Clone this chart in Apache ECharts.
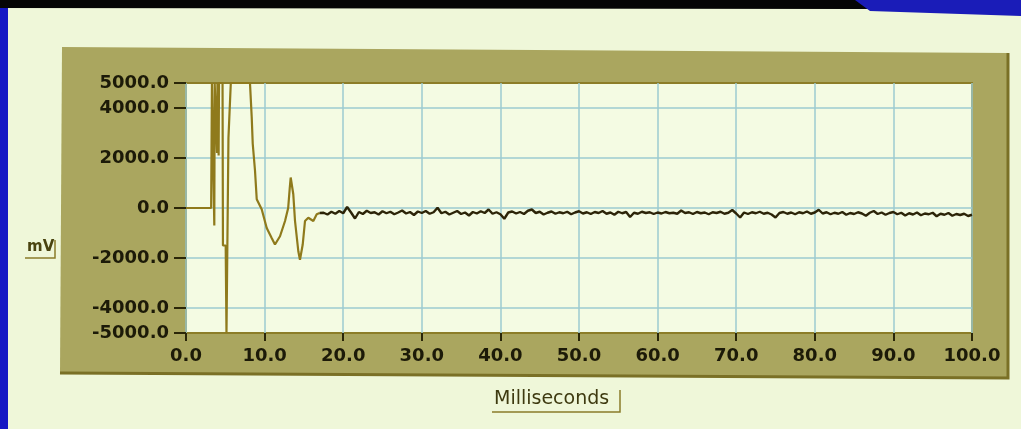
<!DOCTYPE html>
<html>
<head>
<meta charset="utf-8">
<script src="https://cdn.jsdelivr.net/npm/echarts@6/dist/echarts.min.js"></script>
<style>
html,body{margin:0;padding:0;background:#eff7d9;}
#chart{width:1021px;height:429px;}
</style>
</head>
<body>
<div id="chart"></div>
<script>
// ---- data ----
const yTickValues = [-5000, -4000, -2000, 0, 2000, 4000, 5000];
const xTickInterval = 10;
const xAxisTitle = 'Milliseconds';
const yAxisTitle = 'mV';

// early transient (ms, mV)
const transientMs = [0, 3.2, 3.3, 3.55, 3.6, 3.65, 3.9, 3.95, 4.0, 4.05, 4.1, 4.15, 4.2, 4.65, 4.7, 5.05, 5.15, 5.4, 5.65, 5.7, 8.14,
  8.36, 8.49, 8.78, 9.0, 9.63, 10.27, 10.9, 11.32, 11.96, 12.6, 13.0, 13.2, 13.32, 13.65, 13.87, 14.29, 14.5, 14.85, 15.14, 15.56, 16.2, 16.63, 17.0];
const transientMv = [0, 0, 5000, 5000, -700, 5000, 5000, 2200, 5000, 2300, 5000, 2100, 5000, 5000, -1500, -1500, -5000, 2800, 2800, 5000, 5000,
  3640, 2570, 1490, 350, -50, -800, -1200, -1460, -1130, -520, 0, 800, 1220, 550, -520, -1730, -2070, -1460, -520, -390, -520, -250, -200];

// baseline noise from 17.5 ms to 100 ms, every 0.5 ms
const noiseStartMs = 17.5;
const noiseStepMs = 0.5;
const noiseMv = [
  -190, -260, -150, -230, -120, -210, 40, -180, -420, -160,
  -240, -110, -200, -170, -260, -130, -210, -150, -250, -180,
  -100, -220, -160, -280, -140, -200, -120, -230, -170, 10,
  -210, -150, -260, -190, -120, -240, -180, -300, -160, -220,
  -130, -200, -60, -230, -170, -250, -430, -180, -140, -220,
  -160, -240, -110, -60, -200, -150, -260, -190, -140, -230,
  -170, -210, -150, -250, -180, -130, -220, -170, -240, -160,
  -200, -120, -230, -180, -270, -150, -210, -160, -360, -190,
  -230, -150, -200, -170, -240, -180, -220, -160, -210, -190,
  -230, -100, -200, -170, -240, -160, -210, -180, -250, -170,
  -200, -150, -230, -190, -80, -220, -380, -180, -240, -170,
  -210, -150, -230, -190, -260, -380, -200, -160, -230, -180,
  -250, -170, -210, -140, -230, -180, -70, -220, -170, -250,
  -190, -230, -160, -270, -200, -240, -170, -220, -310, -190,
  -120, -240, -180, -270, -200, -160, -250, -190, -300, -210,
  -260, -180, -290, -220, -250, -190, -330, -230, -270, -200,
  -310, -240, -280, -230, -320, -270
];

// ---- build series ----
const transientPoints = transientMs.map((t, i) => [t, transientMv[i]]);
const noisePoints = [[transientMs[transientMs.length - 1], transientMv[transientMv.length - 1]]];
noiseMv.forEach((v, i) => noisePoints.push([+(noiseStartMs + i * noiseStepMs).toFixed(2), v]));

const chart = echarts.init(document.getElementById('chart'), null, {renderer: 'canvas'});
const tickFont = {fontFamily: 'DejaVu Sans', fontSize: 18, fontWeight: 'bold', color: '#1c1a08'};
const gridColor = '#9ccbd0';

chart.setOption({
  backgroundColor: '#eff7d9',
  animation: false,
  grid: {left: 186, top: 83, width: 786, height: 250, show: true, z: 0,
    backgroundColor: '#f4fbe3', borderColor: '#8c7d28', borderWidth: 2},
  xAxis: {
    type: 'value', min: 0, max: 100, interval: xTickInterval, z: 3, position: 'bottom',
    axisLine: {show: false, onZero: false},
    axisTick: {show: true, inside: false, length: 8, lineStyle: {color: '#2a2608', width: 2}},
    axisLabel: Object.assign({margin: 14, formatter: v => v.toFixed(1)}, tickFont),
    splitLine: {show: true, lineStyle: {color: gridColor, width: 1.5}}
  },
  yAxis: [
    {
      type: 'value', min: -5000, max: 5000, interval: 1000, z: 3,
      axisLine: {show: false, onZero: false}, axisTick: {show: false}, axisLabel: {show: false},
      splitLine: {show: true, lineStyle: {color: ['rgba(0,0,0,0)', gridColor], width: 1.5}}
    },
    {
      type: 'value', min: -5000, max: 5000, position: 'left', z: 3,
      axisLine: {show: false, onZero: false}, splitLine: {show: false},
      axisTick: {show: true, length: 12, customValues: yTickValues, lineStyle: {color: '#2a2608', width: 2}},
      axisLabel: Object.assign({margin: 17, customValues: yTickValues, formatter: v => v.toFixed(1)}, tickFont)
    }
  ],
  series: [
    {type: 'line', data: transientPoints, showSymbol: false, clip: true, z: 5, yAxisIndex: 0,
      lineStyle: {width: 2.2, color: '#8f7a1c'}},
    {type: 'line', data: noisePoints, showSymbol: false, clip: true, z: 5, yAxisIndex: 0,
      lineStyle: {width: 2.4, color: '#2c2408'}}
  ],
  graphic: [
    {type: 'polygon', z: -10, shape: {points: [[62, 47], [1009, 53], [1009, 378], [60, 373]]},
      style: {fill: '#aaa65f'}},
    {type: 'polyline', z: -9, shape: {points: [[1008, 53], [1008, 378], [60, 373]]},
      style: {stroke: '#7a7026', lineWidth: 3, fill: null}},
    {type: 'rect', z: -8, shape: {x: 0, y: 0, width: 8, height: 429}, style: {fill: '#1518c4'}},
    {type: 'polygon', z: -8, shape: {points: [[0, 0], [1021, 0], [1021, 9], [860, 9], [0, 8]]}, style: {fill: '#050505'}},
    {type: 'polygon', z: -7, shape: {points: [[855, 0], [1021, 0], [1021, 16], [870, 11]]}, style: {fill: '#1a1cb8'}},
    {type: 'text', z: 10, left: 27, top: 240, style: {text: yAxisTitle, font: 'bold 15px "DejaVu Sans"', fill: '#4a4410'}},
    {type: 'polyline', z: 10, shape: {points: [[25, 258], [55, 258], [55, 240]]}, style: {stroke: '#8a7c2a', lineWidth: 1.5, fill: null}},
    {type: 'text', z: 10, left: 494, top: 390, style: {text: xAxisTitle, font: '19px "DejaVu Sans"', fill: '#3e3a10'}},
    {type: 'polyline', z: 10, shape: {points: [[492, 412], [620, 412], [620, 390]]}, style: {stroke: '#8a7c2a', lineWidth: 1.5, fill: null}}
  ]
});
</script>
</body>
</html>
